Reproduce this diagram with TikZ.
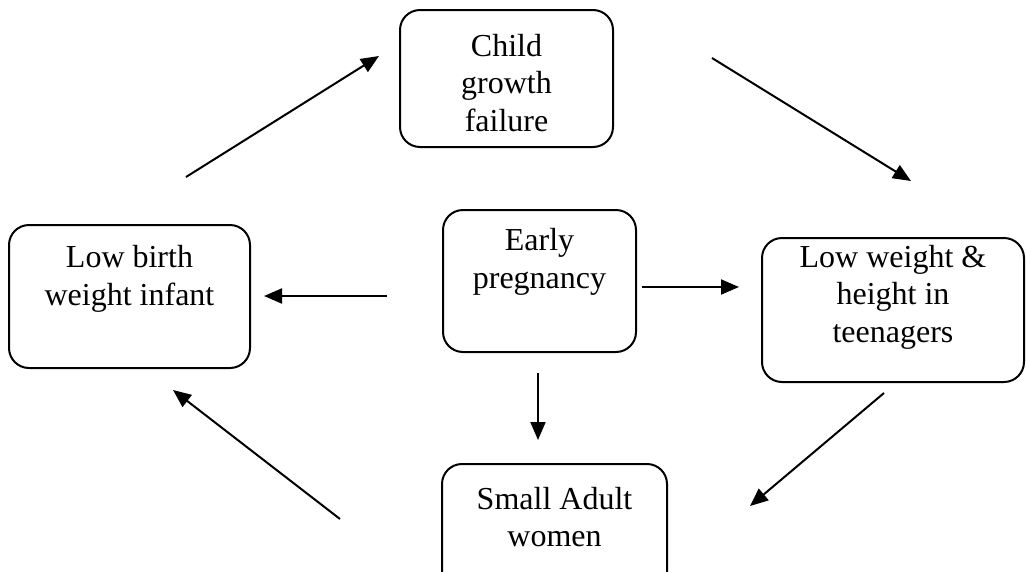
\documentclass[tikz,border=0pt]{standalone}
\usepackage{fontspec}
\setmainfont{Liberation Serif}
\usetikzlibrary{arrows.meta}
\tikzset{
  box/.style={draw, line width=2pt, rounded corners=20pt, inner sep=0pt},
  lbl/.style={align=center, font=\fontsize{32}{37.5}\selectfont, inner sep=0pt},
  arr/.style={line width=2pt, -{Triangle[length=18pt,width=15pt]}},
}
\begin{document}
\begin{tikzpicture}[x=1pt,y=-1pt]
\useasboundingbox (0,0) rectangle (1026,571);
\begin{scope}
\clip (0,0) rectangle (1026,571);
% boxes
\node[box, minimum width=213pt, minimum height=137pt] (child) at (506.5,78.5) {};
\node[lbl] (childt) at (506.5,83) {Child\\growth\\failure};
\node[box, minimum width=241pt, minimum height=143pt] (lbw) at (129.5,296.5) {};
\node[lbl] (lbwt) at (129.5,279) {Low birth\\weight infant};
\node[box, minimum width=193pt, minimum height=142pt] (early) at (539.5,281) {};
\node[lbl] (earlyt) at (539.5,262) {Early\\pregnancy};
\node[box, minimum width=262pt, minimum height=144pt] (teen) at (893,310) {};
\node[lbl] (teent) at (893,297) {Low weight \&\\height in\\teenagers};
\node[box, minimum width=225pt, minimum height=140pt] (small) at (554.5,534) {};
\node[lbl] (smallt) at (554.5,517) {Small Adult\\women};
\end{scope}
% arrow end points
\coordinate (a1s) at (186,177); \coordinate (a1e) at (379,56);
\coordinate (a2s) at (712,58);  \coordinate (a2e) at (911,181);
\coordinate (a3s) at (387,296); \coordinate (a3e) at (264,296);
\coordinate (a4s) at (642,287); \coordinate (a4e) at (739,287);
\coordinate (a5s) at (538,373); \coordinate (a5e) at (538,440);
\coordinate (a6s) at (884,393); \coordinate (a6e) at (750,506);
\coordinate (a7s) at (340,519); \coordinate (a7e) at (173,390);
\draw[arr] (a1s) -- (a1e);
\draw[arr] (a2s) -- (a2e);
\draw[arr] (a3s) -- (a3e);
\draw[arr] (a4s) -- (a4e);
\draw[arr] (a5s) -- (a5e);
\draw[arr] (a6s) -- (a6e);
\draw[arr] (a7s) -- (a7e);
\end{tikzpicture}
\end{document}
